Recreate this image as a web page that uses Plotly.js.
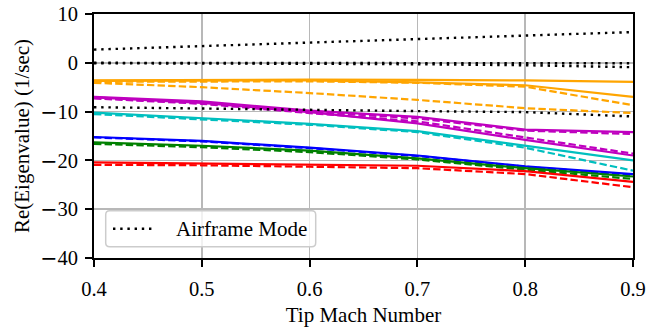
<!DOCTYPE html>
<html>
<head>
<meta charset="utf-8">
<script src="https://cdn.plot.ly/plotly-3.0.1.min.js"></script>
<style>
  html, body { margin: 0; padding: 0; background: #ffffff; }
  #chart { width: 657px; height: 328px; }
</style>
</head>
<body>
<div id="chart"></div>
<script>
// Tip Mach number sweep
const mach = [0.4, 0.5, 0.6, 0.7, 0.8, 0.9];

// Airframe modes (dotted black)
const airframe1 = [2.7, 3.4, 4.2, 4.9, 5.6, 6.3];
const airframe2 = [0.0, 0.0, -0.1, -0.1, -0.1, -0.1];
const airframe3 = [-0.1, -0.1, -0.2, -0.3, -0.5, -0.9];
const airframe4 = [-9.1, -9.4, -9.6, -9.9, -10.1, -11.0];

// Rotor modes, solid and dashed variants
const orangeSolidA = [-3.6, -3.5, -3.45, -3.5, -3.6, -3.9];
const orangeSolidB = [-3.7, -3.6, -3.6, -4.0, -4.6, -7.0];
const orangeDashA  = [-3.9, -3.8, -3.8, -4.1, -4.9, -8.7];
const orangeDashB  = [-4.1, -5.0, -6.2, -7.6, -9.3, -10.3];

const magentaSolidA = [-7.0, -7.9, -9.8, -11.1, -13.7, -14.2];
const magentaDashA  = [-7.2, -8.1, -10.0, -11.4, -13.9, -14.6];
const magentaSolidB = [-7.1, -8.2, -10.1, -12.4, -15.8, -19.0];
const magentaDashB  = [-7.3, -8.4, -10.3, -12.0, -15.3, -18.6];

const cyanSolid = [-10.2, -11.4, -12.5, -14.0, -17.0, -20.0];
const cyanDash  = [-10.5, -11.6, -12.7, -14.2, -17.4, -22.1];

const blueSolid = [-15.2, -16.0, -17.4, -19.0, -21.2, -22.8];
const blueDash  = [-15.3, -16.1, -17.5, -19.1, -21.3, -23.0];

const greenSolid = [-16.3, -17.0, -18.0, -19.6, -21.6, -23.3];
const greenDash  = [-16.6, -17.3, -18.3, -19.8, -21.9, -23.8];

const redSolid = [-20.4, -20.6, -20.9, -21.1, -22.2, -24.4];
const redDash  = [-20.9, -21.0, -21.3, -21.6, -22.8, -25.5];

const xTicks = [0.4, 0.5, 0.6, 0.7, 0.8, 0.9];
const yTicks = [10, 0, -10, -20, -30, -40];

const ORANGE = '#ffa500', MAGENTA = '#bf00bf', CYAN = '#00bfbf',
      BLUE = '#0000ff', GREEN = '#008000', RED = '#ff0000';

const DASHED = '7.4px,3.2px';
const DOTTED = '2.4px,4.8px';
const LW = 2.2;

function curve(y, color, dash) {
  return {
    x: mach, y: y, type: 'scatter', mode: 'lines',
    line: { color: color, width: LW, dash: dash || 'solid' },
    showlegend: false, hoverinfo: 'skip'
  };
}
function airframe(y) {
  return {
    x: mach, y: y, type: 'scatter', mode: 'lines',
    line: { color: '#000000', width: 2.4, dash: DOTTED },
    showlegend: false, hoverinfo: 'skip'
  };
}

const traces = [
  curve(orangeSolidA, ORANGE), curve(orangeSolidB, ORANGE),
  curve(orangeDashA, ORANGE, DASHED), curve(orangeDashB, ORANGE, DASHED),
  curve(magentaSolidA, MAGENTA), curve(magentaSolidB, MAGENTA),
  curve(magentaDashA, MAGENTA, DASHED), curve(magentaDashB, MAGENTA, DASHED),
  curve(cyanSolid, CYAN), curve(cyanDash, CYAN, DASHED),
  curve(blueSolid, BLUE), curve(blueDash, BLUE, DASHED),
  curve(greenSolid, GREEN), curve(greenDash, GREEN, DASHED),
  curve(redSolid, RED), curve(redDash, RED, DASHED),
  airframe(airframe1), airframe(airframe2), airframe(airframe3), airframe(airframe4)
];

const FAMILY = '"Liberation Serif", "Times New Roman", serif';
const TICKFONT = { family: FAMILY, size: 20.5, color: '#000000' };
const TITLEFONT = { family: FAMILY, size: 21, color: '#000000' };

// Negative tick labels use a wide sans minus sign
function yLabel(v) {
  return v < 0
    ? '<span style="font-family:\'DejaVu Sans\'">\u2212</span>' + Math.abs(v)
    : String(v);
}

// Legend box (rounded frame, dotted sample, label), in paper units
const plotW = 657 - 94 - 24, plotH = 328 - 14 - 70;
const lg = { x0: 11.7 / plotW, x1: 221.7 / plotW, y0: 11.3 / plotH, y1: 47.3 / plotH };
const rx = 4 / plotW, ry = 4 / plotH;
const framePath =
  'M' + (lg.x0 + rx) + ',' + lg.y1 +
  ' L' + (lg.x1 - rx) + ',' + lg.y1 +
  ' Q' + lg.x1 + ',' + lg.y1 + ' ' + lg.x1 + ',' + (lg.y1 - ry) +
  ' L' + lg.x1 + ',' + (lg.y0 + ry) +
  ' Q' + lg.x1 + ',' + lg.y0 + ' ' + (lg.x1 - rx) + ',' + lg.y0 +
  ' L' + (lg.x0 + rx) + ',' + lg.y0 +
  ' Q' + lg.x0 + ',' + lg.y0 + ' ' + lg.x0 + ',' + (lg.y0 + ry) +
  ' L' + lg.x0 + ',' + (lg.y1 - ry) +
  ' Q' + lg.x0 + ',' + lg.y1 + ' ' + (lg.x0 + rx) + ',' + lg.y1 + ' Z';
const lgMid = (lg.y0 + lg.y1) / 2;

const layout = {
  width: 657, height: 328,
  margin: { l: 94, r: 24, t: 14, b: 70, pad: 0 },
  paper_bgcolor: '#ffffff', plot_bgcolor: '#ffffff',
  font: TICKFONT,
  showlegend: false,
  xaxis: {
    range: [0.4, 0.9], tickvals: xTicks, ticktext: xTicks.map(v => v.toFixed(1)),
    showgrid: true, gridcolor: '#b8b8b8', gridwidth: 1.5,
    zeroline: false, showline: true, linecolor: '#000000', linewidth: 2, mirror: true,
    ticks: 'outside', ticklen: 7, tickwidth: 2, tickcolor: '#000000',
    ticklabelstandoff: 4,
    tickfont: TICKFONT,
    title: { text: 'Tip Mach Number', font: TITLEFONT, standoff: 9 }
  },
  yaxis: {
    range: [-40, 10], tickvals: yTicks, ticktext: yTicks.map(yLabel),
    showgrid: true, gridcolor: '#b8b8b8', gridwidth: 1.5,
    zeroline: false, showline: true, linecolor: '#000000', linewidth: 2, mirror: true,
    ticks: 'outside', ticklen: 7, tickwidth: 2, tickcolor: '#000000',
    ticklabelstandoff: 3,
    tickfont: TICKFONT,
    title: { text: 'Re(Eigenvalue) (1/sec)', font: TITLEFONT, standoff: 5 }
  },
  shapes: [
    { type: 'path', xref: 'paper', yref: 'paper', path: framePath,
      line: { color: '#cccccc', width: 1.5 }, fillcolor: 'rgba(255,255,255,0.8)', layer: 'above' },
    { type: 'line', xref: 'paper', yref: 'paper',
      x0: 19 / plotW, x1: 58 / plotW, y0: lgMid, y1: lgMid,
      line: { color: '#000000', width: 2.4, dash: DOTTED }, layer: 'above' }
  ],
  annotations: [
    { xref: 'paper', yref: 'paper', x: 80 / plotW, y: lgMid,
      xanchor: 'left', yanchor: 'middle', showarrow: false,
      text: 'Airframe Mode', font: TITLEFONT }
  ]
};

Plotly.newPlot('chart', traces, layout, { staticPlot: true, displayModeBar: false });
</script>
</body>
</html>
